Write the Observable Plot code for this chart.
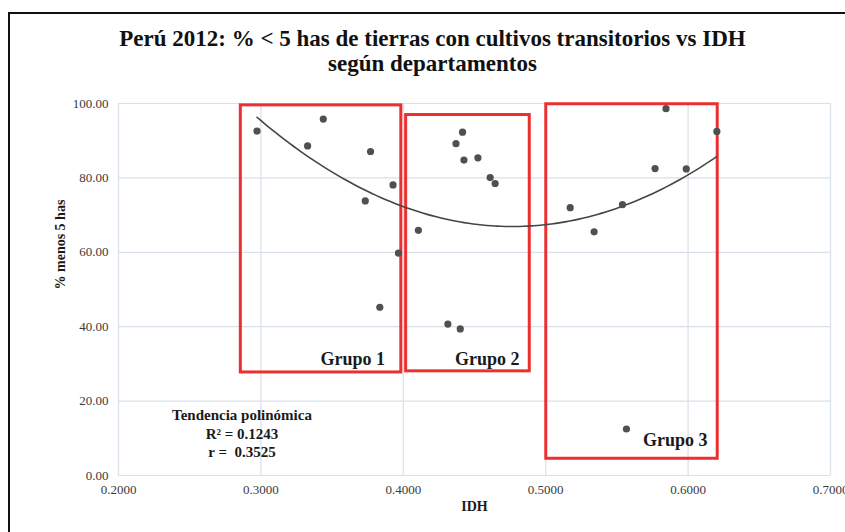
<!DOCTYPE html>
<html>
<head>
<meta charset="utf-8">
<script src="https://cdn.jsdelivr.net/npm/d3@7"></script>
<script src="https://cdn.jsdelivr.net/npm/@observablehq/plot@0.6"></script>
<style>
  html, body { margin: 0; padding: 0; background: #fff; }
  #wrap { position: relative; width: 845px; height: 532px; overflow: hidden; background: #fff; }
  #frame { position: absolute; left: 8px; top: 12px; width: 900px; height: 600px;
           border-left: 2px solid #111; border-top: 2px solid #111; box-sizing: border-box; }
  #title { position: relative; height: 90px; font-family: "Liberation Serif", "DejaVu Serif", serif;
           font-weight: bold; font-size: 23px; color: #111; text-align: center; }
  #title .l1 { position: absolute; left: 0; right: 0; top: 26px; padding-left: 20px; }
  #title .l2 { position: absolute; left: 0; right: 0; top: 51px; padding-left: 20px; }
  #chart { position: relative; }
</style>
</head>
<body>
<div id="wrap">
  <div id="frame"></div>
  <div id="title"><div class="l1">Perú 2012: % &lt; 5 has de tierras con cultivos transitorios vs IDH</div><div class="l2">según departamentos</div></div>
  <div id="chart"></div>
</div>
<script>
// Data: IDH and % of land < 5 has with transitory crops, by department
const idh = [0.2973, 0.3438, 0.3328, 0.3770, 0.3928, 0.3733, 0.3966, 0.3835,
             0.4106, 0.4416, 0.4370, 0.4426, 0.4524, 0.4610, 0.4645, 0.4313, 0.4400,
             0.5172, 0.5340, 0.5539, 0.5768, 0.5845, 0.5987, 0.6202, 0.5567];
const pct = [92.6, 95.8, 88.6, 87.1, 78.1, 73.8, 59.8, 45.2,
             65.9, 92.3, 89.2, 84.8, 85.4, 80.1, 78.5, 40.7, 39.4,
             72.0, 65.5, 72.8, 82.5, 98.6, 82.4, 92.5, 12.5];

// Group boxes (in data units)
const grupos = ["Grupo 1", "Grupo 2", "Grupo 3"];
const grupoIdhMin = [0.2859, 0.4020, 0.5004];
const grupoIdhMax = [0.3986, 0.4888, 0.6208];
const grupoPctMin = [27.7, 28.0, 4.5];
const grupoPctMax = [99.5, 96.9, 99.8];
const grupoLabelIdh = [0.3645, 0.4590, 0.5909];
const grupoLabelPct = [31.2, 31.2, 9.6];

// Trend annotation
const tendLines = ["Tendencia polinómica", "R² = 0.1243", "r =  0.3525"];
const tendIdh = 0.2867;
const tendPct = [16.1, 11.1, 6.2];

const xTicks = [0.2, 0.3, 0.4, 0.5, 0.6, 0.7];
const yTicks = [0, 20, 40, 60, 80, 100];

const points = idh.map((x, i) => ({x, y: pct[i]}));
const boxes = grupos.map((g, i) => ({g, x1: grupoIdhMin[i], x2: grupoIdhMax[i], y1: grupoPctMin[i], y2: grupoPctMax[i],
                                     lx: grupoLabelIdh[i], ly: grupoLabelPct[i]}));
const tend = tendLines.map((t, i) => ({t, x: tendIdh, y: tendPct[i]}));

// Polynomial (order 2) least-squares trendline, as in the spreadsheet
function quadFit(xs, ys) {
  const n = xs.length;
  let s = [0,0,0,0,0], t = [0,0,0];
  for (let i = 0; i < n; i++) {
    const x = xs[i], y = ys[i];
    let p = 1;
    for (let k = 0; k < 5; k++) { s[k] += p; if (k < 3) t[k] += p * y; p *= x; }
  }
  const A = [[s[0], s[1], s[2], t[0]], [s[1], s[2], s[3], t[1]], [s[2], s[3], s[4], t[2]]];
  for (let c = 0; c < 3; c++) {
    for (let r = c + 1; r < 3; r++) {
      const f = A[r][c] / A[c][c];
      for (let k = c; k < 4; k++) A[r][k] -= f * A[c][k];
    }
  }
  const b = [0,0,0];
  for (let r = 2; r >= 0; r--) {
    let v = A[r][3];
    for (let k = r + 1; k < 3; k++) v -= A[r][k] * b[k];
    b[r] = v / A[r][r];
  }
  return b;
}
const coef = quadFit(idh, pct);
const xmin = d3.min(idh), xmax = d3.max(idh);
const trend = d3.range(0, 101).map(i => {
  const x = xmin + (xmax - xmin) * i / 100;
  return {x, y: coef[0] + coef[1] * x + coef[2] * x * x};
});

const serif = "Liberation Serif, DejaVu Serif, serif";
const gridColor = "#d8e0e9";

const chart = Plot.plot({
  width: 845,
  height: 442,
  marginLeft: 118,
  marginRight: 15,
  marginTop: 13,
  marginBottom: 57,
  style: {fontFamily: serif, fontSize: "13px", color: "#3a3a3a", background: "transparent"},
  x: {domain: [0.2, 0.7]},
  y: {domain: [0, 100]},
  marks: [
    Plot.gridX(xTicks, {stroke: gridColor, strokeOpacity: 1, strokeWidth: 1.2}),
    Plot.gridY(yTicks, {stroke: gridColor, strokeOpacity: 1, strokeWidth: 1.2}),
    Plot.axisX(xTicks, {tickSize: 0, tickPadding: 9, tickFormat: d3.format(".4f"), label: null, fill: "#3a3a3a"}),
    Plot.axisY(yTicks, {tickSize: 0, tickPadding: 10, tickFormat: d3.format(".2f"), label: null, fill: "#3a3a3a"}),
    Plot.rect(boxes, {x1: "x1", x2: "x2", y1: "y1", y2: "y2", fill: "none", stroke: "#ec2f2f", strokeWidth: 3}),
    Plot.line(trend, {x: "x", y: "y", stroke: "#454545", strokeWidth: 1.6, curve: "natural"}),
    Plot.dot(points, {x: "x", y: "y", r: 3.6, fill: "#505050", stroke: "none"}),
    Plot.text(boxes, {x: "lx", y: "ly", text: "g", fontSize: 18, fontWeight: "bold", fill: "#1a1a1a"}),
    Plot.text(tend, {x: "x", y: "y", text: "t", fontSize: 15, fontWeight: "bold", fill: "#1a1a1a"}),
    Plot.text(["% menos 5 has"], {frameAnchor: "left", dx: -58, rotate: -90, fontSize: 14, fontWeight: "bold", fill: "#1a1a1a"}),
    Plot.text(["IDH"], {frameAnchor: "bottom", dy: 35, fontSize: 14, fontWeight: "bold", fill: "#1a1a1a"})
  ]
});
document.getElementById("chart").appendChild(chart);
</script>
</body>
</html>
